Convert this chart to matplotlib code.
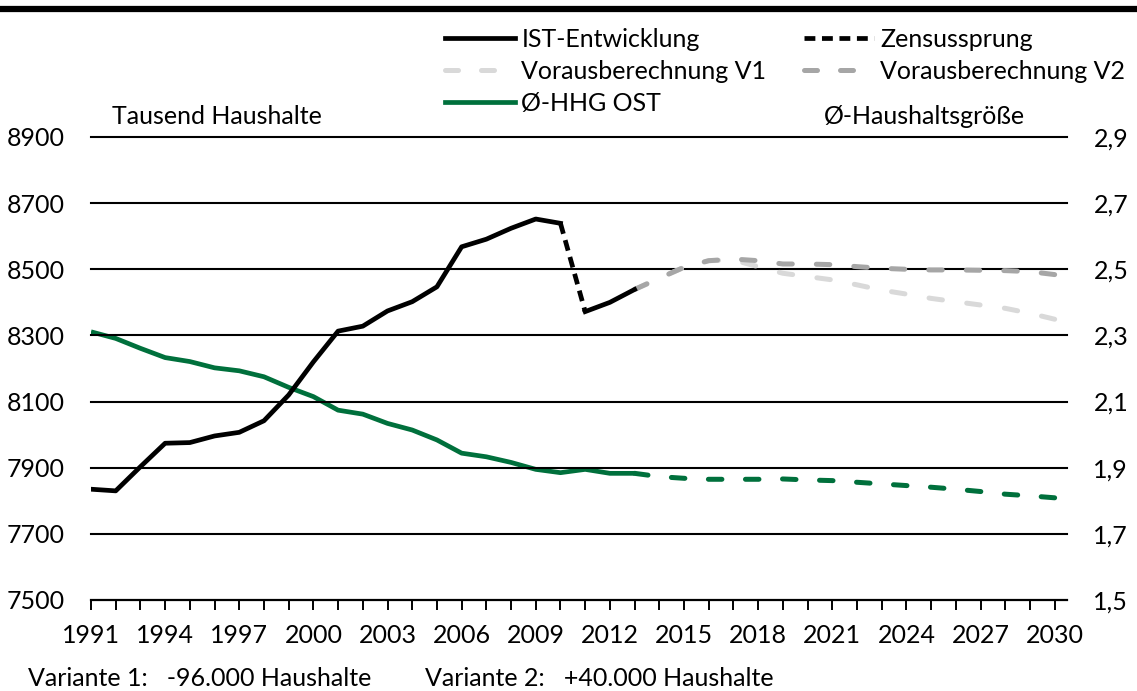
import matplotlib
matplotlib.use("Agg")
import matplotlib.pyplot as plt
import numpy as np
from matplotlib.lines import Line2D
from matplotlib.ticker import FuncFormatter, MultipleLocator

plt.rcParams['font.family'] = ['Lato', 'DejaVu Sans']
plt.rcParams['font.size'] = 18

# Haushalte (Tausend)
jahre_ist = list(range(1991, 2011))
haushalte_ist = [7835, 7830, 7903, 7974, 7976, 7996, 8007, 8042, 8120, 8220,
                 8313, 8328, 8374, 8402, 8447, 8568, 8591, 8624, 8652, 8639]
jahre_zensus = [2010, 2011]
haushalte_zensus = [8639, 8372]
jahre_ist2 = [2011, 2012, 2013]
haushalte_ist2 = [8372, 8400, 8439]

jahre_prog = list(range(2013, 2031))
haushalte_v1 = [8439, 8473, 8506, 8526, 8528, 8508, 8488, 8478, 8468, 8453,
                8437, 8425, 8412, 8402, 8392, 8382, 8367, 8349]
haushalte_v2 = [8439, 8473, 8506, 8526, 8531, 8526, 8516, 8516, 8514, 8508,
                8503, 8500, 8498, 8498, 8497, 8496, 8493, 8484]

# durchschnittliche Haushaltsgröße
jahre_hhg = list(range(1991, 2014))
hhg_ist = [2.311, 2.291, 2.261, 2.233, 2.221, 2.202, 2.193, 2.175, 2.143, 2.115,
           2.074, 2.062, 2.034, 2.014, 1.984, 1.944, 1.933, 1.916, 1.895, 1.885,
           1.895, 1.883, 1.883]
hhg_prog = [1.883, 1.873, 1.868, 1.865, 1.865, 1.865, 1.866, 1.863, 1.861, 1.856,
            1.851, 1.846, 1.841, 1.835, 1.828, 1.820, 1.815, 1.809]

schwarz = '#000000'
hellgrau = '#d9d9d9'
grau = '#a6a6a6'
gruen = '#00703c'

fig = plt.figure(figsize=(11.37, 6.91), dpi=100)
ax = fig.add_axes([91/1137, 1-600/691, (1067-91)/1137, (600-137)/691])
ax2 = ax.twinx()

ax.set_xlim(1991, 2030.5)
ax.set_ylim(7500, 8900)
ax2.set_ylim(1.5, 2.9)

ax.set_yticks(range(7500, 8901, 200))
ax2.set_yticks([1.5, 1.7, 1.9, 2.1, 2.3, 2.5, 2.7, 2.9])
ax2.yaxis.set_major_formatter(FuncFormatter(lambda v, p: f'{v:.1f}'.replace('.', ',')))
ax.set_xticks(range(1991, 2031, 3))
ax.xaxis.set_minor_locator(MultipleLocator(1))

for a in (ax, ax2):
    for s in ['left', 'right', 'top']:
        a.spines[s].set_visible(False)
ax2.spines['bottom'].set_visible(False)
ax.spines['bottom'].set_linewidth(1.6)

ax.tick_params(axis='x', which='both', direction='out', length=7, width=1.4,
               pad=10, labelsize=18)
ax.tick_params(axis='y', length=0, pad=19, labelsize=18)
ax2.tick_params(axis='y', length=0, pad=19, labelsize=18)

for y in range(7700, 8901, 200):
    ax.axhline(y, color='black', lw=1.5, zorder=1, clip_on=False)

ax.set_zorder(2)
ax.patch.set_visible(False)
ax2.set_zorder(1)

LW = 3.6


def strichmuster(achse, xs, ys, on_px=13.5, periode_px=36.9):
    # Strichlänge so anpassen, dass die Linie mit einem Strich endet
    pts = achse.transData.transform(np.column_stack([xs, ys]))
    laenge = np.sum(np.hypot(*np.diff(pts, axis=0).T))
    n = max(1, round((laenge - on_px) / periode_px))
    p = (laenge - on_px) / n
    f = 0.72 / LW
    return (0, (on_px * f, (p - on_px) * f))


ax2.plot(jahre_hhg, hhg_ist, color=gruen, lw=3.4, solid_capstyle='butt')
ax2.plot(jahre_prog, hhg_prog, color=gruen, lw=LW,
         linestyle=strichmuster(ax2, jahre_prog, hhg_prog), dash_capstyle='round')

ax.plot(jahre_prog, haushalte_v1, color=hellgrau, lw=LW,
        linestyle=strichmuster(ax, jahre_prog, haushalte_v1),
        dash_capstyle='round', zorder=3)
ax.plot(jahre_prog, haushalte_v2, color=grau, lw=LW,
        linestyle=strichmuster(ax, jahre_prog, haushalte_v2),
        dash_capstyle='round', zorder=3)
ax.plot(jahre_ist, haushalte_ist, color=schwarz, lw=3.4, zorder=4)
ax.plot(jahre_zensus, haushalte_zensus, color=schwarz, lw=3.4, dashes=(2.3, 1.4),
        zorder=4)
ax.plot(jahre_ist2, haushalte_ist2, color=schwarz, lw=3.4, zorder=4)

# Legende
strich = (0, (2.6, 4.6))
h_ist = Line2D([], [], color=schwarz, lw=3.4)
h_zen = Line2D([], [], color=schwarz, lw=3.4, dashes=(2.3, 1.4))
h_v1 = Line2D([], [], color=hellgrau, lw=LW, linestyle=strich, dash_capstyle='round')
h_v2 = Line2D([], [], color=grau, lw=LW, linestyle=strich, dash_capstyle='round')
h_hhg = Line2D([], [], color=gruen, lw=3.4)
fig.legend([h_ist, h_v1, h_hhg, h_zen, h_v2],
           ['IST-Entwicklung', 'Vorausberechnung V1', 'Ø-HHG OST',
            'Zensussprung', 'Vorausberechnung V2'],
           ncol=2, loc='upper left', bbox_to_anchor=(445/1137, 1-28/691),
           frameon=False, fontsize=18, handlelength=2.8, handletextpad=0.25,
           columnspacing=1.5, labelspacing=0.35, borderpad=0, borderaxespad=0)

fig.text(112/1137, 1-116/691, 'Tausend Haushalte', fontsize=18, va='center')
fig.text(1025/1137, 1-116/691, 'Ø-Haushaltsgröße', fontsize=18, va='center', ha='right')

fig.text(28/1137, 1-678/691, 'Variante 1:   -96.000 Haushalte', fontsize=18, va='center')
fig.text(425/1137, 1-678/691, 'Variante 2:   +40.000 Haushalte', fontsize=18, va='center')

fig.add_artist(Line2D([0, 1], [1-9/691, 1-9/691], color='black', lw=4.5,
                      transform=fig.transFigure))

fig.savefig('out.png', dpi=100)
